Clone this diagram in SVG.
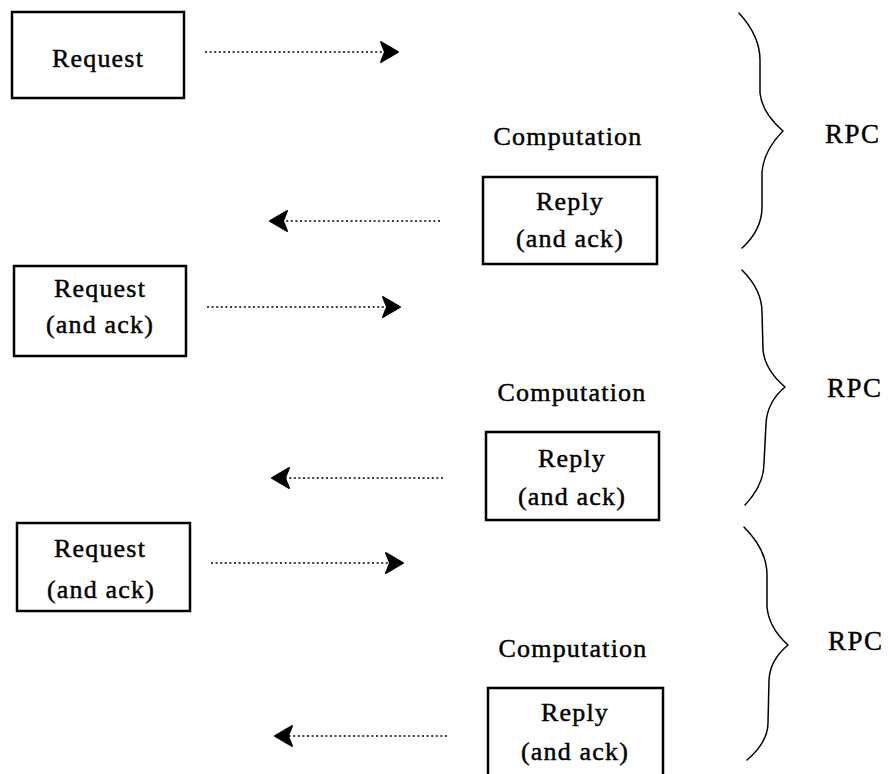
<svg xmlns="http://www.w3.org/2000/svg" width="888" height="774" viewBox="0 0 888 774">
  <style>
    .box { fill: #fff; stroke: #000; stroke-width: 2.5; }
    .lbl { font-family: "Liberation Serif", "Times New Roman", serif; font-size: 26px; letter-spacing: 1.2px; fill: #000; stroke: #000; stroke-width: 0.45; text-anchor: middle; }
    .rpc { font-family: "Liberation Serif", "Times New Roman", serif; font-size: 27px; letter-spacing: 1.5px; fill: #000; stroke: #000; stroke-width: 0.4; }
    .msg { fill: none; stroke: #000; stroke-width: 1.5; stroke-dasharray: 2 2.6; marker-end: url(#head); }
    .brace { fill: none; stroke: #000; stroke-width: 1.5; stroke-linejoin: round; stroke-linecap: round; }
  </style>
  <defs>
    <!-- bold notched chevron used on every message -->
    <marker id="head" markerUnits="userSpaceOnUse" markerWidth="26" markerHeight="26" viewBox="-21 -13 26 26" refX="0" refY="0" orient="auto">
      <path d="M2,0 L-15,-10 L-11,0 L-15,10 Z" fill="#000" stroke="#000" stroke-width="2" stroke-linejoin="round"/>
    </marker>
  </defs>

  <rect width="888" height="774" fill="#fff"/>

  <!-- first exchange -->
  <g id="request1">
    <rect class="box" x="12" y="12" width="172" height="86"/>
    <text class="lbl" x="98" y="67">Request</text>
  </g>
  <g id="computation1">
    <text class="lbl" x="568" y="145">Computation</text>
  </g>
  <g id="reply1">
    <rect class="box" x="483" y="177" width="174" height="87"/>
    <text class="lbl" x="570" y="210">Reply</text>
    <text class="lbl" x="570" y="247">(and ack)</text>
  </g>
  <g id="rpc1">
    <path class="brace" d="M739,13 Q760,36 760,60 L760,93 Q762,113 783,131 Q764,150 762,172 L762,207 Q762,230 742,248"/>
    <text class="rpc" x="825" y="143">RPC</text>
  </g>

  <!-- second exchange -->
  <g id="request2">
    <rect class="box" x="14" y="266" width="172" height="90"/>
    <text class="lbl" x="100" y="297">Request</text>
    <text class="lbl" x="100" y="333">(and ack)</text>
  </g>
  <g id="computation2">
    <text class="lbl" x="572" y="401">Computation</text>
  </g>
  <g id="reply2">
    <rect class="box" x="486" y="432" width="173" height="88"/>
    <text class="lbl" x="572" y="467">Reply</text>
    <text class="lbl" x="572" y="505">(and ack)</text>
  </g>
  <g id="rpc2">
    <path class="brace" d="M742,270 Q762,290 762,312 L763,350 Q765,370 785,387 Q767,402 766,424 L764,463 Q764,485 745,505"/>
    <text class="rpc" x="827" y="397">RPC</text>
  </g>

  <!-- third exchange -->
  <g id="request3">
    <rect class="box" x="17" y="523" width="173" height="88"/>
    <text class="lbl" x="100" y="557">Request</text>
    <text class="lbl" x="101" y="598">(and ack)</text>
  </g>
  <g id="computation3">
    <text class="lbl" x="573" y="657">Computation</text>
  </g>
  <g id="reply3">
    <rect class="box" x="488" y="688" width="175" height="100"/>
    <text class="lbl" x="575" y="721">Reply</text>
    <text class="lbl" x="575" y="760">(and ack)</text>
  </g>
  <g id="rpc3">
    <path class="brace" d="M744,527 Q767,550 767,575 L767,607 Q769,628 788,645 Q770,660 769,680 L768,723 Q768,742 747,760"/>
    <text class="rpc" x="828" y="650">RPC</text>
  </g>

  <!-- messages -->
  <g id="connectors">
    <line class="msg" x1="205" y1="52" x2="396" y2="52"/>
    <line class="msg" x1="440" y1="221" x2="272" y2="221"/>
    <line class="msg" x1="207" y1="307" x2="398" y2="307"/>
    <line class="msg" x1="443" y1="478" x2="274" y2="478"/>
    <line class="msg" x1="211" y1="563" x2="401" y2="563"/>
    <line class="msg" x1="447" y1="736" x2="277" y2="736"/>
  </g>
</svg>
